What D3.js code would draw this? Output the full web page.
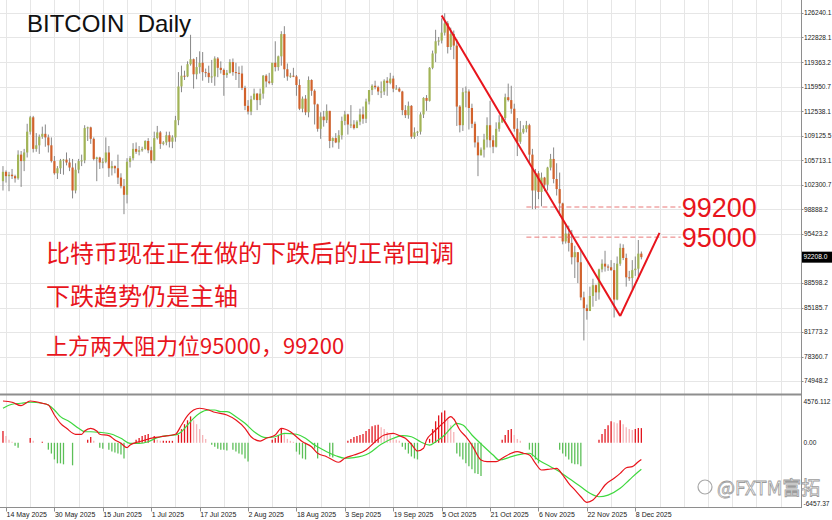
<!DOCTYPE html>
<html>
<head>
<meta charset="utf-8">
<script src="https://cdn.jsdelivr.net/npm/d3@7"></script>
<style>
  body { margin: 0; background: #fff; }
  svg { display: block; }
</style>
</head>
<body>
<svg id="chart" width="832" height="520"></svg>
<script>
// ---- data (daily candles from 13 May 2025, open = previous close) ----
const startDay = "2025-05-13";
const firstOpen = 102800;

const closes = [
  104100,103500,103700,103500,103200,106500,105600,106800,109700,111700,107300,107800,109000,109400,108900,107800,105600,103900,104600,
  105700,105800,105400,104700,101500,104400,105600,105700,110200,110300,108700,105900,106100,105400,105500,106800,104600,104900,104600,103300,102100,100900,105500,106000,107300,106900,107100,107300,108400,107100,
  105700,108800,109600,108000,108200,109200,108300,108900,111300,116000,117500,117400,119100,119800,117700,118700,119300,118000,117900,117300,117400,119900,118600,118300,117600,117900,119400,118000,117900,117800,115800,
  113300,112500,114200,115000,114100,115000,117500,116700,116500,119300,118700,120200,123300,118400,117400,117500,117400,116200,112900,114300,112400,116900,115400,113500,110100,111800,111300,112600,108400,108800,108200,
  109200,111200,112100,110700,110700,110200,111100,112100,111500,113900,115500,116100,115900,115300,115300,116800,116500,117100,115700,115700,115300,112700,112000,113300,109000,109600,109700,112100,114400,114000,
  118600,120600,122300,122400,123500,124800,121500,123300,121700,113200,110600,115200,115300,113000,110800,108200,106400,107200,108600,110600,108500,107600,110100,111000,111600,114500,114100,112900,110100,108300,109600,
  110100,110600,106500,101500,103900,101300,103300,102300,104700,105900,103100,101700,99700,94400,95500,94200,92200,92900,91500,86600,85100,84700,86800,88300,87300,90500,91300,90900,90800,90400,
  86300,91300,93500,92100,89400,89300,90400,90600,92700,92208
];
const highs = [
  104900,104300,104100,104500,103700,107100,107000,107300,110800,111900,111900,109500,109300,110400,110700,109300,108900,106300,104900,
  105900,105900,106800,106000,105900,105300,105900,106500,110600,110400,110400,108900,106200,106200,106000,108900,107700,105600,105000,106500,103900,103100,106000,106300,108100,108200,107700,107600,108500,108800,
  107600,109700,110500,109800,108400,109700,109700,109200,111900,118000,118900,118200,119500,123200,119900,120100,120900,120800,118500,118900,119700,120200,120100,119500,118500,118300,119800,119900,119300,118800,118900,
  116100,114100,114700,115700,115100,115700,117600,117700,117900,119300,122300,120300,123700,124400,119200,117900,118600,117600,117000,114600,114800,117400,117000,115600,113600,112400,112600,113500,112600,108900,109500,
  109900,111800,112600,112200,113400,111300,111300,112900,113200,114300,115500,116300,116800,116100,116700,117000,117300,117900,117500,116200,115900,115400,113400,113900,113400,110300,109800,112400,114500,114800,
  118700,121000,123900,122900,125500,126200,125100,124200,123800,122600,113400,115800,116000,115600,113600,111100,109100,107500,109400,111700,114000,109200,111000,112000,111900,115000,116400,116100,113600,111600,111200,
  110600,111200,110800,107300,104500,104200,104000,103400,104800,106600,107500,105300,104000,99800,96800,96600,96000,93800,92900,93200,87400,85600,88100,89200,88400,90600,91900,93100,91200,91800,
  91400,92300,94100,94000,92700,90300,91800,92300,94600,93000
];
const lows = [
  101500,102600,101400,103100,102600,103000,102000,104200,106100,109300,106800,106900,106600,108700,107600,106800,105400,103700,103100,
  103800,103700,105000,104200,100400,101100,103900,104900,105300,108400,108000,105700,102800,104500,104600,105300,103400,103600,103900,102400,101800,98200,99700,104700,105700,106600,106400,106900,107200,106700,
  105300,105600,108600,107300,107800,107800,107500,107400,108300,110600,115200,116900,117300,118900,115700,117000,117800,116800,117300,116500,116500,116100,117300,117800,114700,117200,117800,117500,116900,115800,115500,
  112700,112100,112000,114100,112700,113400,114300,115900,116300,116200,118100,118200,118900,117200,116800,117200,117300,114700,112700,112400,112000,111700,114700,110700,109700,108700,110400,110900,107400,107500,108100,
  107300,108600,110600,109300,110200,110000,110200,110600,110800,110900,113500,114800,115600,114800,114400,114800,114700,116300,115200,115600,115200,112000,111600,111500,108700,108700,109100,109300,111600,112600,
  113900,118400,119400,121700,122000,123100,120600,121100,119800,110500,109600,109800,113100,110000,110200,107500,103500,106400,106100,107500,107500,106700,107500,109700,110900,111300,113900,112200,109700,106300,108000,
  109400,109600,105300,98900,98900,100300,99300,101400,101500,104300,102500,100800,98000,94000,94100,93000,91200,89300,88600,86200,80600,83500,84700,85300,86100,86300,90100,90200,90300,90300,
  83800,86200,91000,91800,88100,88900,87700,89600,89500,91900
];

const priceTicks = [126240.1, 122828.1, 119363.2, 115950.7, 112538.1, 109125.5, 105713.1,
  102300.7, 98888.2, 95423.2, 88598.2, 85185.7, 81773.2, 78360.7, 74948.2];
const lastPrice = 92208.0;
const dateTicks = ["2025-05-14","2025-05-30","2025-06-15","2025-07-01","2025-07-17","2025-08-02","2025-08-18",
  "2025-09-03","2025-09-19","2025-10-05","2025-10-21","2025-11-06","2025-11-22","2025-12-08"];
const macdTicks = [4576.112, 0, -6457.37];

// MACD indicator, [day index, value]
const macdLine = [[0,4270],[3,4140],[6,3790],[9,4270],[13,4040],[15,3860],[17,2840],[19,1990],[21,1480],[24,870],[26,870],
  [27,1200],[29,1480],[31,1200],[32,870],[35,730],[37,290],[39,-50],[41,-500],[42,-230],[45,110],[47,290],[50,520],[52,620],
  [57,870],[59,1820],[61,2770],[63,3350],[65,3530],[68,3350],[70,3120],[74,2840],[77,2330],[80,1480],[82,620],[85,180],[87,460],
  [90,800],[92,1480],[95,1130],[97,620],[99,110],[102,-400],[104,-1070],[107,-1420],[109,-1760],[111,-1990],[113,-1580],
  [116,-1250],[120,-740],[123,110],[126,800],[129,970],[131,730],[133,460],[135,-150],[137,-840],[139,-560],[140,290],
  [142,1000],[144,1600],[146,2160],[148,2670],[149,2430],[151,1310],[153,620],[155,-230],[158,-1760],[160,-1930],[163,-1930],
  [165,-1580],[168,-1070],[170,-910],[172,-1070],[174,-1250],[176,-2100],[178,-2780],[181,-2680],[183,-2610],[185,-3290],
  [187,-4140],[189,-4820],[191,-5510],[193,-6080],[195,-5850],[197,-5160],[199,-4310],[202,-3630],[204,-3120],[206,-2550],
  [208,-2440],[210,-1930],[211,-1700]];
const signalLine = [[0,3530],[3,3940],[6,4040],[9,4140],[13,4040],[15,3860],[17,3350],[19,2670],[22,2160],[25,1480],[27,1130],
  [29,1130],[32,1070],[36,870],[39,460],[42,-50],[45,-50],[48,110],[51,520],[54,730],[57,800],[59,1130],[61,1820],[63,2500],
  [65,3020],[68,3350],[70,3350],[72,3180],[74,3180],[77,2670],[80,1990],[83,1130],[87,520],[90,620],[93,970],[97,870],[100,460],
  [103,-230],[107,-910],[110,-1320],[113,-1580],[116,-1520],[121,-1070],[125,-150],[129,460],[132,730],[135,620],[138,110],
  [141,-230],[143,110],[146,800],[148,1480],[150,1990],[152,1820],[155,800],[159,-400],[162,-1250],[164,-1760],[168,-1420],
  [171,-1180],[174,-1070],[177,-1760],[181,-2440],[184,-2950],[187,-3630],[191,-4490],[194,-5160],[197,-5510],[200,-5340],
  [204,-4650],[207,-3800],[210,-2950],[211,-2700]];
const histBars = [[0,1200],[1,700],[2,300],[3,100],[4,-300],[5,-500],[9,500],[10,200],[13,100],
  [15,-700],[16,-1100],[17,-1700],[18,-2100],[19,-2100],[20,-2200],[23,-2300],[28,300],[29,600],[30,200],
  [32,-500],[33,-600],[35,-700],[36,-900],[37,-1000],[38,-1100],[39,-1200],[40,-1600],
  [44,300],[45,500],[46,700],[47,800],[48,900],[50,700],[51,300],[52,200],[53,200],[54,200],[55,200],[56,200],
  [58,800],[59,1400],[60,1900],[61,2300],[62,2700],[63,2300],[64,1900],[65,1400],[66,800],[67,400],
  [69,-200],[70,-400],[71,-600],[72,-700],[73,-700],[74,-800],[76,-700],[77,-900],[78,-1100],[79,-1200],[80,-1600],[81,-1900],
  [89,300],[90,500],[91,800],[92,1400],[93,900],[94,400],[95,200],[96,100],
  [97,-900],[98,-1200],[99,-1600],[100,-1700],[103,-600],[104,-1600],[108,-1400],[109,-1500],
  [114,200],[115,400],[116,600],[117,700],[118,800],[119,900],[120,1200],[121,1400],[122,1700],[123,1800],[124,1850],
  [125,1600],[126,1400],[127,1100],[128,800],[129,500],[130,300],[131,200],
  [132,-400],[133,-700],[134,-1100],[135,-1400],[136,-1600],[137,-1700],
  [141,400],[142,1400],[143,2200],[144,2800],[145,3100],[146,3300],[147,2400],[148,1800],[149,1100],
  [150,-1100],[151,-1400],[152,-1700],[153,-2100],[154,-2400],[155,-2700],[156,-3100],[157,-3200],[158,-3400],
  [165,300],[166,800],[167,1300],[168,1400],[169,800],[170,400],[171,200],
  [174,-700],[175,-1400],[176,-1700],[177,-2100],
  [184,-700],[185,-1100],[186,-1400],[187,-1700],[188,-2100],[189,-2200],[190,-2200],[191,-2400],
  [197,300],[198,900],[199,1400],[200,1800],[201,2200],[202,2100],[203,2000],[204,2300],[205,1900],[206,1600],
  [207,1400],[208,1300],[209,1400],[210,1500],[211,1500]];

// drawn annotations
const levels = [99200, 95000];
const levelSpan = [173, 224];
const downTrend = [[145, 125900], [204, 84000]];
const upTrend = [[204, 84000], [217, 95600]];
const notes = ["比特币现在正在做的下跌后的正常回调", "下跌趋势仍是主轴", "上方两大阻力位95000，99200"];

// ---- scales ----
const svg = d3.select("#chart");
const parse = d3.utcParse("%Y-%m-%d");
const t0 = parse(startDay);
const DAY = 864e5;
const axisX = 801.5;

const x = d3.scaleUtc()
  .domain([parse("2025-05-14"), parse("2025-12-08")])
  .range([6, 635.3]);
const xi = i => x(new Date(+t0 + i * DAY));

const y = d3.scaleLinear().domain([74948.2, 126240.1]).range([381, 13]);
const ym = d3.scaleLinear().domain([-6457.37, 4576.112]).range([506, 398]);

const axisFont = "Liberation Sans, Arial, sans-serif";

// ---- grid ----
const grid = svg.append("g").attr("stroke", "#e6e6e6").attr("stroke-width", 1);
const gridDays = d3.range(0, 400, 8).map(k => d3.utcDay.offset(parse(dateTicks[0]), k)).filter(d => x(d) < axisX);
grid.selectAll(".vg").data(gridDays).enter().append("line")
  .attr("x1", d => Math.round(x(d)) + 0.5).attr("x2", d => Math.round(x(d)) + 0.5)
  .attr("y1", 0).attr("y2", 507);
grid.selectAll(".hg").data(priceTicks).enter().append("line")
  .attr("x1", 0).attr("x2", axisX)
  .attr("y1", d => Math.round(y(d)) + 0.5).attr("y2", d => Math.round(y(d)) + 0.5);

// ---- candles ----
const candles = closes.map((c, i) => ({
  i, open: i === 0 ? firstOpen : closes[i - 1], close: c, high: highs[i], low: lows[i]
}));

const cg = svg.append("g");
cg.selectAll(".wick").data(candles).enter().append("line")
  .attr("x1", d => xi(d.i)).attr("x2", d => xi(d.i))
  .attr("y1", d => y(d.high)).attr("y2", d => y(d.low))
  .attr("stroke", "#7a7a7a").attr("stroke-width", 0.9);
cg.selectAll(".body").data(candles).enter().append("rect")
  .attr("x", d => xi(d.i) - 1.1).attr("width", 2.2)
  .attr("y", d => y(Math.max(d.open, d.close)))
  .attr("height", d => Math.max(1, Math.abs(y(d.open) - y(d.close))))
  .attr("fill", d => d.close >= d.open ? "#a2b456" : "#d2622c");

// ---- resistance levels ----
const red = "#e8141c";
svg.append("g").selectAll("line").data(levels).enter().append("line")
  .attr("x1", xi(levelSpan[0])).attr("x2", xi(levelSpan[1]))
  .attr("y1", d => y(d)).attr("y2", d => y(d))
  .attr("stroke", "#e66a6a").attr("stroke-width", 0.9).attr("stroke-dasharray", "5,3");
svg.append("g").selectAll("text").data(levels).enter().append("text")
  .attr("x", xi(levelSpan[1]) + 1).attr("y", d => y(d) + 9.5)
  .attr("font-family", axisFont).attr("font-size", 27).attr("fill", red)
  .text(d => d);

// ---- trend lines ----
const tl = d3.line().x(d => xi(d[0])).y(d => y(d[1]));
[downTrend, upTrend].forEach(seg => {
  svg.append("path").attr("d", tl(seg)).attr("fill", "none")
    .attr("stroke", red).attr("stroke-width", 2);
});

// ---- texts ----
svg.append("text").attr("x", 27).attr("y", 32)
  .attr("font-family", axisFont).attr("font-size", 24).attr("fill", "#111")
  .style("white-space", "pre").text("BITCOIN  Daily");

svg.append("g").selectAll("text").data(notes).enter().append("text")
  .attr("x", 46).attr("y", (d, k) => [262, 305, 354][k])
  .attr("font-family", "Noto Sans CJK SC, sans-serif")
  .attr("font-size", (d, k) => k === 2 ? 22 : 24).attr("fill", red)
  .text(d => d);

// ---- MACD panel ----
const mg = svg.append("g");
mg.selectAll("line").data(histBars).enter().append("line")
  .attr("x1", d => xi(d[0])).attr("x2", d => xi(d[0]))
  .attr("y1", ym(0)).attr("y2", d => ym(d[1]))
  .attr("stroke-width", 1.3)
  .attr("stroke", (d, k) => {
    if (d[1] < 0) return "#5cbf58";
    const prev = histBars[k - 1];
    const rising = !prev || prev[0] !== d[0] - 1 || prev[1] <= d[1];
    return rising ? "#e2161e" : "#f6b4b8";
  });

const ml = d3.line().x(d => xi(d[0])).y(d => ym(d[1])).curve(d3.curveMonotoneX);
mg.append("path").attr("d", ml(signalLine)).attr("fill", "none")
  .attr("stroke", "#3fd83f").attr("stroke-width", 1.2);
mg.append("path").attr("d", ml(macdLine)).attr("fill", "none")
  .attr("stroke", "#e8141c").attr("stroke-width", 1.2);

// ---- frame / axes ----
const frame = svg.append("g").attr("stroke", "#8e8e8e");
frame.append("line").attr("x1", axisX).attr("x2", axisX).attr("y1", 0).attr("y2", 508);
frame.append("line").attr("x1", 0).attr("x2", axisX).attr("y1", 394.5).attr("y2", 394.5).attr("stroke-width", 2);
frame.append("line").attr("x1", 0).attr("x2", axisX).attr("y1", 507.5).attr("y2", 507.5);

const ax = svg.append("g").attr("font-family", axisFont).attr("font-size", 6.6).attr("fill", "#222");
ax.selectAll(".pl").data(priceTicks).enter().append("text")
  .attr("x", 804).attr("y", d => y(d)).attr("dy", "0.35em")
  .text(d => d.toFixed(1));
ax.selectAll(".pt").data(priceTicks).enter().append("line")
  .attr("x1", axisX).attr("x2", axisX + 2)
  .attr("y1", d => Math.round(y(d)) + 0.5).attr("y2", d => Math.round(y(d)) + 0.5)
  .attr("stroke", "#8e8e8e");

ax.append("rect").attr("x", 802).attr("y", y(lastPrice) - 5.5).attr("width", 30).attr("height", 11).attr("fill", "#000");
ax.append("text").attr("x", 803.5).attr("y", y(lastPrice)).attr("dy", "0.35em")
  .attr("fill", "#fff").text(lastPrice.toFixed(1));

ax.selectAll(".ml").data(macdTicks).enter().append("text")
  .attr("x", 803.5).attr("y", d => ym(d) + (d > 0 ? 4 : d < 0 ? -2 : 0)).attr("dy", "0.35em")
  .text(d => d === 0 ? "0.00" : String(d));

const fmt = d3.utcFormat("%-d %b %Y");
ax.selectAll(".dt").data(dateTicks.map(parse)).enter().append("line")
  .attr("x1", d => Math.round(x(d)) + 0.5).attr("x2", d => Math.round(x(d)) + 0.5)
  .attr("y1", 507.5).attr("y2", 511.5).attr("stroke", "#8e8e8e");
ax.selectAll(".dl").data(dateTicks.map(parse)).enter().append("text")
  .attr("x", d => x(d) + 0.5).attr("y", 517).attr("font-size", 7)
  .text(d => fmt(d));

// ---- watermark ----
const wm = svg.append("g");
wm.append("circle").attr("cx", 705).attr("cy", 487).attr("r", 7)
  .attr("fill", "none").attr("stroke", "#a8a8a8").attr("stroke-width", 1.2);
wm.append("text").attr("x", 717).attr("y", 495)
  .attr("font-family", "Noto Sans CJK SC, sans-serif").attr("font-size", 19)
  .attr("fill", "#fff").attr("stroke", "#9c9c9c").attr("stroke-width", 0.8)
  .text("@FXTM富拓");
</script>
</body>
</html>
